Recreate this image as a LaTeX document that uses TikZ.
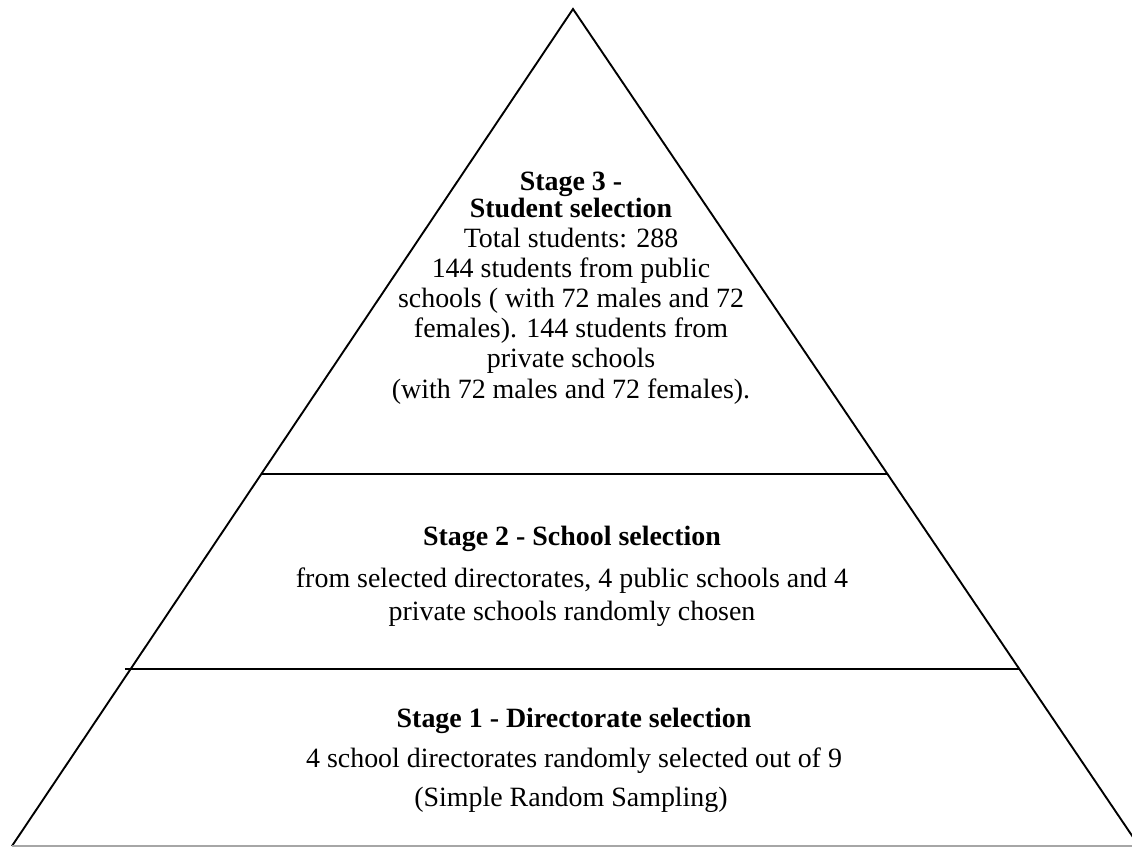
\documentclass[tikz,border=0pt]{standalone}
\usepackage{fontspec}
\setmainfont{Liberation Serif}
\usetikzlibrary{calc}

\tikzset{
  title/.style={font=\fontsize{14.8}{14}\selectfont\bfseries, align=center, inner sep=0pt},
  body/.style={font=\fontsize{14.8}{16}\selectfont, align=center, inner sep=0pt}
}

\begin{document}
\begin{tikzpicture}[x=0.53pt,y=-0.53pt]
\useasboundingbox (0,0) rectangle (1132,847);

% outline
\coordinate (A) at (573,9);
\coordinate (L) at (12,846);
\coordinate (R) at (1139,846);
\coordinate (L3) at ($(A)!0.5556!(L)$);
\coordinate (R3) at ($(A)!0.5556!(R)$);
\coordinate (L2) at ($(A)!0.7885!(L)$);
\coordinate (R2) at ($(A)!0.7885!(R)$);

\draw[line width=1pt] (L) -- (A) -- (R);
\draw[line width=1pt] (L3) -- (R3);
\draw[line width=1pt] ([xshift=-3]L2) -- (R2);
\draw[line width=1pt, gray!70] (L) -- (R);

% stage 3
\node[title] (T3) at (571,195) {Stage 3 -\\Student selection};
\node[body] (B3) at (571,316) {Total students: 288\\144 students from public\\schools ( with 72 males and 72\\females). 144 students from\\private schools\\(with 72 males and 72 females).};

% stage 2
\node[title, anchor=base] (T2) at (572,545) {Stage 2 - School selection};
\node[body, font=\fontsize{14.8}{17.5}\selectfont] (B2) at (572,597) {from selected directorates, 4 public schools and 4\\private schools randomly chosen};

% stage 1
\node[title, anchor=base] (T1) at (574,727) {Stage 1 - Directorate selection};
\node[body, anchor=base] (B1) at (574,767) {4 school directorates randomly selected out of 9};
\node[body, anchor=base] (S1) at (571,806) {(Simple Random Sampling)};
\end{tikzpicture}
\end{document}
